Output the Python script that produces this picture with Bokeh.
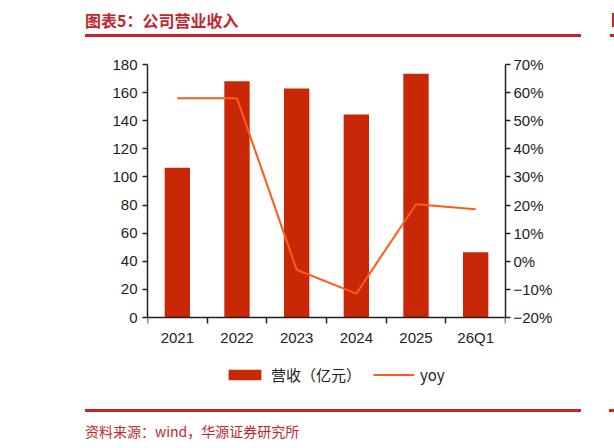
from bokeh.plotting import figure
from bokeh.layouts import column
from bokeh.models import (Range1d, LinearAxis, FixedTicker, CustomJSTickFormatter,
                          Legend, LegendItem, Div)
from bokeh.embed import file_html
from bokeh.resources import INLINE

# ---- data ----
categories = ["2021", "2022", "2023", "2024", "2025", "26Q1"]
revenue = [106.5, 168.0, 163.0, 144.5, 173.5, 46.5]          # 营收（亿元）
yoy = [0.58, 0.58, -0.03, -0.115, 0.203, 0.185]               # yoy
left_ticks = [0, 20, 40, 60, 80, 100, 120, 140, 160, 180]
right_ticks = [-0.2, -0.1, 0.0, 0.1, 0.2, 0.3, 0.4, 0.5, 0.6, 0.7]

title_text = "图表5：公司营业收入"
source_text = "资料来源：wind，华源证券研究所"

RED = "#c0282e"
BAR = "#c82806"
LINE = "#ff5a1a"
W = 614
HDR_H, MAIN_H, FTR_H = 45, 345, 58

# ---- header ----
hdr_html = f"""
<div style="position:relative;width:{W}px;height:{HDR_H}px;overflow:hidden;">
  <div style="position:absolute;left:85px;top:9px;font-family:'Noto Sans CJK SC';font-weight:bold;
              font-size:16px;line-height:22px;color:{RED};white-space:nowrap;">{title_text}</div>
  <div style="position:absolute;left:85px;top:34px;width:496px;height:2.5px;background:{RED};"></div>
  <div style="position:absolute;left:610px;top:34px;width:4px;height:2.5px;background:{RED};"></div>
  <div style="position:absolute;left:612px;top:13px;width:2px;height:14px;background:{RED};"></div>
</div>"""
hdr = Div(text=hdr_html, width=W, height=HDR_H, margin=(0, 0, 0, 0))

# ---- main chart ----
# frame spans page y 64..390; value axes occupy 64..317, the band below holds the legend
TOP_BORDER = 19
FRAME_H = MAIN_H - TOP_BORDER
AXIS_PX = 253
px_left = AXIS_PX / (left_ticks[-1] - left_ticks[0])
px_right = AXIS_PX / (right_ticks[-1] - right_ticks[0])
EXTRA = FRAME_H - AXIS_PX

n = len(categories)
xs = [i + 0.5 for i in range(n)]

p = figure(width=W, height=MAIN_H, x_range=Range1d(0, n),
           y_range=Range1d(left_ticks[0] - EXTRA / px_left, left_ticks[-1]),
           x_axis_location="above",
           output_backend="svg", toolbar_location=None,
           min_border_left=147, min_border_right=109, min_border_top=TOP_BORDER, min_border_bottom=0)
p.grid.visible = False
p.outline_line_color = None
p.extra_y_ranges = {"pct": Range1d(right_ticks[0] - EXTRA / px_right, right_ticks[-1])}

bars = p.vbar(x=xs, top=revenue, width=0.425, fill_color=BAR, line_color=None)
ln = p.line(x=xs, y=yoy, y_range_name="pct", line_color=LINE, line_width=2)

AX = "#222222"
FONT = "Liberation Sans"
FS = "15px"

xa = p.xaxis[0]
xa.fixed_location = 0
xa.ticker = FixedTicker(ticks=xs, minor_ticks=list(range(n + 1)))
xa.formatter = CustomJSTickFormatter(args=dict(labels=categories),
                                     code="const i = Math.floor(tick); return (i >= 0 && i < labels.length) ? labels[i] : '';")
xa.major_tick_line_color = None
xa.major_tick_in = 0
xa.major_tick_out = 0
xa.minor_tick_in = 6
xa.minor_tick_out = 0
xa.minor_tick_line_color = AX
xa.minor_tick_line_width = 1.5
xa.axis_line_color = AX
xa.axis_line_width = 1.5
xa.major_label_text_font = FONT
xa.major_label_text_font_size = FS
xa.major_label_text_color = AX
xa.major_label_standoff = -28

ya = p.yaxis[0]
ya.bounds = (left_ticks[0], left_ticks[-1])
ya.ticker = FixedTicker(ticks=left_ticks, minor_ticks=[])
ya.major_tick_in = 0
ya.major_tick_out = 5
ya.major_tick_line_color = AX
ya.major_tick_line_width = 1.5
ya.axis_line_color = AX
ya.axis_line_width = 1.5
ya.major_label_text_font = FONT
ya.major_label_text_font_size = FS
ya.major_label_text_color = AX
ya.major_label_standoff = 5

ra = LinearAxis(y_range_name="pct")
ra.bounds = (right_ticks[0], right_ticks[-1])
ra.ticker = FixedTicker(ticks=right_ticks, minor_ticks=[])
ra.formatter = CustomJSTickFormatter(code="const v = Math.round(tick*100); return (v < 0 ? '\u2212' + (-v) : '' + v) + '%';")
ra.major_tick_in = 0
ra.major_tick_out = 5
ra.major_tick_line_color = AX
ra.major_tick_line_width = 1.5
ra.axis_line_color = AX
ra.axis_line_width = 1.5
ra.major_label_text_font = FONT
ra.major_label_text_font_size = FS
ra.major_label_text_color = AX
ra.major_label_standoff = 3
p.add_layout(ra, "right")

legend = Legend(items=[LegendItem(label="营收（亿元）", renderers=[bars]),
                       LegendItem(label="yoy", renderers=[ln])],
                orientation="horizontal", location=(77, 5),
                glyph_width=41, glyph_height=13, label_text_font="Noto Sans CJK SC",
                label_text_font_size="15px", label_text_color=AX,
                spacing=12, padding=0, label_standoff=6, margin=0,
                border_line_color=None, background_fill_alpha=0)
p.add_layout(legend, "center")

# ---- footer ----
ftr_html = f"""
<div style="position:relative;width:{W}px;height:{FTR_H}px;overflow:hidden;">
  <div style="position:absolute;left:85px;top:19px;width:496px;height:2.5px;background:{RED};"></div>
  <div style="position:absolute;left:609px;top:19px;width:5px;height:2.5px;background:{RED};"></div>
  <div style="position:absolute;left:85px;top:31px;font-family:'Noto Sans CJK SC';
              font-size:14px;line-height:20px;color:{RED};white-space:nowrap;">{source_text}</div>
</div>"""
ftr = Div(text=ftr_html, width=W, height=FTR_H, margin=(0, 0, 0, 0))

layout = column(hdr, p, ftr, spacing=0)
open("out.html", "w").write(file_html(layout, INLINE))
